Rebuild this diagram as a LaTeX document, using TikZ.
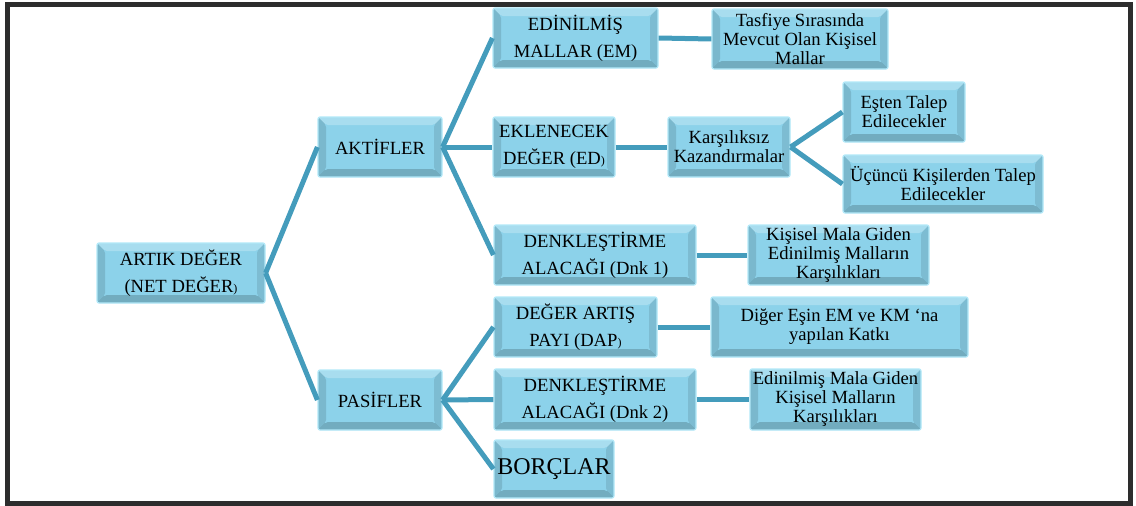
\documentclass[tikz,border=0pt]{standalone}
\usepackage{fontspec}
\setmainfont{Liberation Serif}
\newfontfamily\kutufont{Liberation Serif}
\usepackage{xcolor}
\usepackage{tikz}

\definecolor{boxblue}{RGB}{140,210,234}
\definecolor{boxrim}{RGB}{178,232,248}
\definecolor{linkteal}{RGB}{68,156,188}
\definecolor{framegray}{RGB}{45,45,45}
\newcommand{\kucukparen}{{\fontsize{12}{12}\selectfont )}}

\begin{document}
\begin{tikzpicture}[x=1pt, y=-1pt,
  every node/.style={inner sep=0pt, align=center},
  box/.style 2 args={draw=boxrim, line width=1.2pt, fill=boxblue, rounded corners=2pt,
    minimum width=#1pt, minimum height=#2pt, font=\kutufont\fontsize{18.6}{19}\selectfont,
    path picture={
      \path (path picture bounding box.north west) coordinate (pnw)
            (path picture bounding box.north east) coordinate (pne)
            (path picture bounding box.south east) coordinate (pse)
            (path picture bounding box.south west) coordinate (psw);
      \fill[white, opacity=.25] (pnw) -- (pne) -- ([shift={(-8pt,-8pt)}]pne) -- ([shift={(8pt,-8pt)}]pnw) -- cycle;
      \fill[black, opacity=.12] (pnw) -- ([shift={(8pt,-8pt)}]pnw) -- ([shift={(8pt,8pt)}]psw) -- (psw) -- cycle;
      \fill[black, opacity=.18] (psw) -- ([shift={(8pt,8pt)}]psw) -- ([shift={(-8pt,8pt)}]pse) -- (pse) -- cycle;
      \fill[black, opacity=.10] (pse) -- ([shift={(-8pt,8pt)}]pse) -- ([shift={(-8pt,-8pt)}]pne) -- (pne) -- cycle;
    }},
  caps/.style={font=\kutufont\fontsize{18.6}{27}\selectfont},
  link/.style={draw=linkteal, line width=5pt}
]
\useasboundingbox (0,0) rectangle (1136,506);
\draw[framegray, line width=5pt] (7.5,4.5) rectangle (1130.5,503.5);

% root and the two sides
\node[box={168}{60}, caps] (artik) at (181,273) {ARTIK DEĞER\\(NET DEĞER\kucukparen};
\node[box={124}{60}, caps] (aktif) at (380,147) {AKTİFLER};
\node[box={124}{60}, caps] (pasif) at (380,400) {PASİFLER};

% aktifler
\node[box={165}{60}, caps] (em) at (575.5,38) {EDİNİLMİŞ\\MALLAR (EM)};
\node[box={176}{60}] (tasfiye) at (800,39) {Tasfiye Sırasında\\Mevcut Olan Kişisel\\Mallar};
\node[box={122}{60}, caps] (ed) at (554,147) {EKLENECEK\\DEĞER (ED\kucukparen};
\node[box={122}{60}] (karsiliksiz) at (729,147) {Karşılıksız\\Kazandırmalar};
\node[box={122}{60}] (esten) at (904,112) {Eşten Talep\\Edilecekler};
\node[box={200}{58}] (ucuncu) at (943,184) {Üçüncü Kişilerden Talep\\Edilecekler};
\node[box={202}{60}, caps] (dnkbir) at (595,255) {DENKLEŞTİRME\\ALACAĞI (Dnk 1)};
\node[box={181}{60}] (kisisel) at (838.5,255) {Kişisel Mala Giden\\Edinilmiş Malların\\Karşılıkları};

% pasifler
\node[box={163}{60}, caps] (dap) at (575.5,327) {DEĞER ARTIŞ\\PAYI (DAP\kucukparen};
\node[box={257}{60}] (diger) at (839.5,327) {Diğer Eşin EM ve KM ‘na\\yapılan Katkı};
\node[box={202}{61}, caps] (dnkiki) at (595,399.5) {DENKLEŞTİRME\\ALACAĞI (Dnk 2)};
\node[box={171}{61}] (edinilmis) at (835.5,399.5) {Edinilmiş Mala Giden\\Kişisel Malların\\Karşılıkları};
\node[box={120}{58}, font=\kutufont\fontsize{24}{26}\selectfont] (borclar) at (554,469) {BORÇLAR};

% connectors
\draw[link] (artik.east) -- (aktif.west);
\draw[link] (artik.east) -- (pasif.west);
\draw[link] (aktif.east) -- (em.west);
\draw[link] (aktif.east) -- (ed.west);
\draw[link] (aktif.east) -- (dnkbir.west);
\draw[link] (pasif.east) -- (dap.west);
\draw[link] (pasif.east) -- (dnkiki.west);
\draw[link] (pasif.east) -- (borclar.west);
\draw[link] (em.east) -- (tasfiye.west);
\draw[link] (ed.east) -- (karsiliksiz.west);
\draw[link] (karsiliksiz.east) -- (esten.west);
\draw[link] (karsiliksiz.east) -- (ucuncu.west);
\draw[link] (dnkbir.east) -- (kisisel.west);
\draw[link] (dap.east) -- (diger.west);
\draw[link] (dnkiki.east) -- (edinilmis.west);
\end{tikzpicture}
\end{document}
